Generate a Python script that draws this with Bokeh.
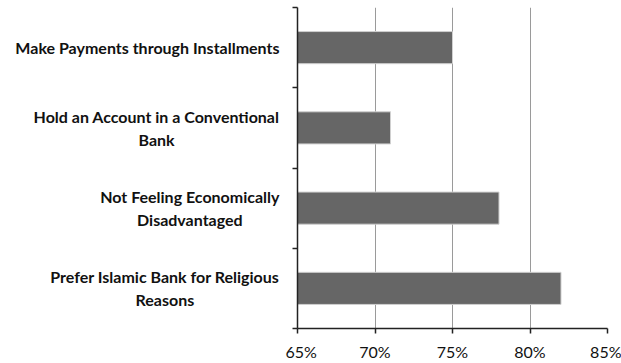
from bokeh.plotting import figure
from bokeh.layouts import row
from bokeh.embed import file_html
from bokeh.resources import INLINE
from bokeh.models import LinearAxis, FixedTicker, Range1d, Label

categories = [
    "Prefer Islamic Bank for Religious\nReasons",
    "Not Feeling Economically\nDisadvantaged",
    "Hold an Account in a Conventional\nBank",
    "Make Payments through Installments",
]
values = [82, 78, 71, 75]
x_ticks = [65, 70, 75, 80, 85]

n = len(categories)
centers = [i + 0.5 for i in range(n)]
bounds = list(range(n + 1))

yr = Range1d(0, n)
LABEL_W = 285

# label panel
lp = figure(width=LABEL_W, height=363, output_backend="svg", toolbar_location=None,
            x_range=Range1d(0, 1), y_range=yr,
            x_axis_location=None, y_axis_location=None,
            min_border_left=0, min_border_right=0, min_border_top=7, min_border_bottom=33)
lp.outline_line_color = None
lp.grid.grid_line_color = None
for c, lab in zip(centers, categories):
    lp.add_layout(Label(x=1, y=c, text=lab, x_offset=-6,
                        anchor="center_right", text_align="center",
                        text_font="Lato", text_font_style="bold",
                        text_font_size="16px", text_color="#111111",
                        text_line_height=1.2))

# chart panel
p = figure(width=621 - LABEL_W, height=363, output_backend="svg", toolbar_location=None,
           x_range=Range1d(65, 85), y_range=yr,
           x_axis_location="below", y_axis_location=None,
           min_border_left=12, min_border_right=14, min_border_top=7, min_border_bottom=33)
p.outline_line_color = None

p.hbar(y=centers, right=values, left=65, height=0.4,
       fill_color="#666666", line_color="#d0d0d0", line_width=1)

xa = p.xaxis[0]
xa.ticker = FixedTicker(ticks=x_ticks)
xa.major_label_overrides = {t: f"{t}%" for t in x_ticks}
xa.minor_tick_line_color = None
xa.axis_line_color = "#222222"
xa.axis_line_width = 1.5
xa.major_tick_line_color = "#222222"
xa.major_tick_line_width = 1.5
xa.major_tick_out = 5
xa.major_tick_in = 0
xa.major_label_standoff = 8
xa.major_label_text_font = "Lato"
xa.major_label_text_font_size = "16px"
xa.major_label_text_color = "#111111"

ya = LinearAxis(ticker=FixedTicker(ticks=bounds))
ya.major_label_text_font_size = "0px"
ya.major_label_text_color = None
ya.minor_tick_line_color = None
ya.axis_line_color = "#222222"
ya.axis_line_width = 1.5
ya.major_tick_line_color = "#222222"
ya.major_tick_line_width = 1.5
ya.major_tick_out = 5
ya.major_tick_in = 0
ya.major_label_standoff = 0
p.add_layout(ya, "left")

p.xgrid.ticker = FixedTicker(ticks=x_ticks[1:])
p.xgrid.grid_line_color = "#9a9a9a"
p.xgrid.grid_line_width = 1
p.ygrid.grid_line_color = None

layout = row(lp, p, spacing=0)
open("out.html", "w").write(file_html(layout, INLINE))
